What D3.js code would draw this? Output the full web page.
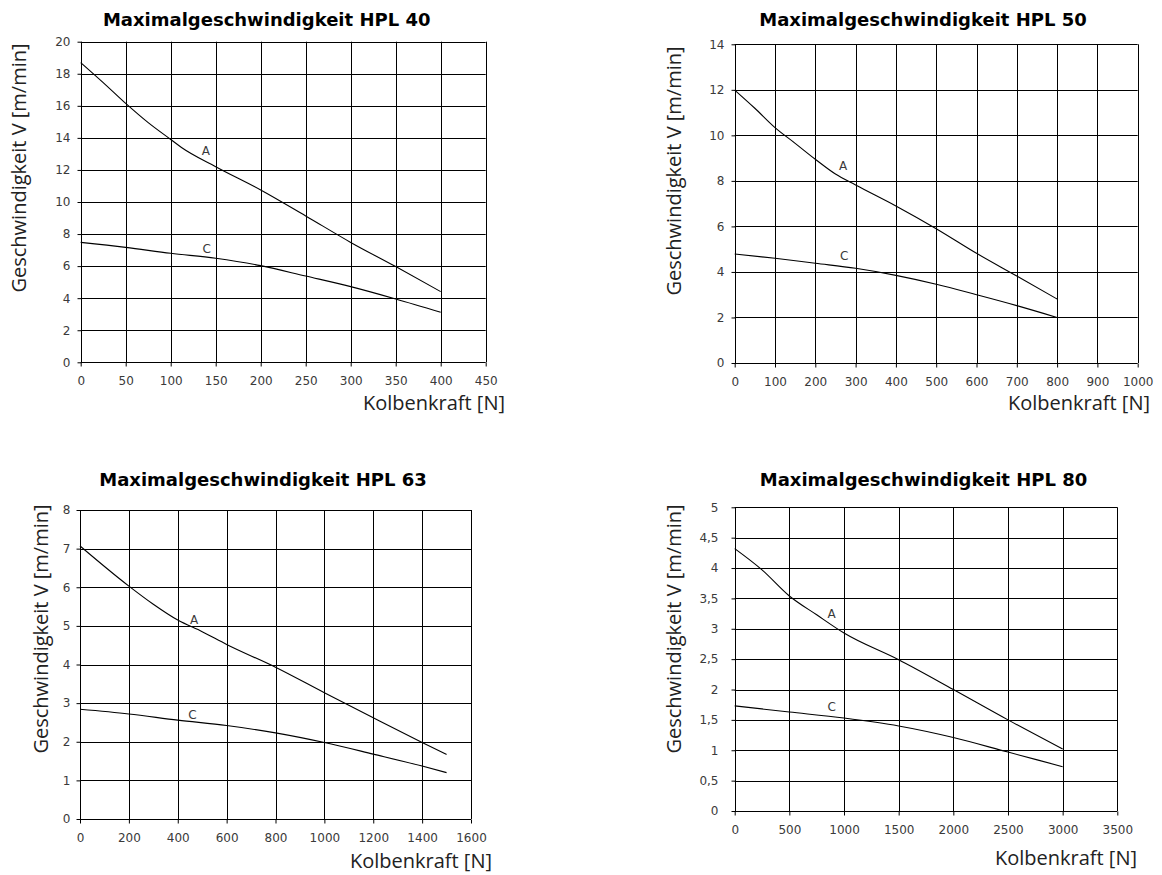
<!DOCTYPE html>
<html>
<head>
<meta charset="utf-8">
<script src="https://cdn.jsdelivr.net/npm/d3@7"></script>
<style>
  body { margin: 0; background: #fff; }
  svg { display: block; font-family: "Open Sans", "Noto Sans", sans-serif; }
</style>
</head>
<body>
<svg id="charts" width="1162" height="875"></svg>
<script>
// Data (Kolbenkraft [N] -> V [m/min])
const hpl40Force = [0, 25, 50, 75, 100, 112, 150, 200, 250, 300, 350, 400];
const hpl40A = [18.7, 17.45, 16.15, 14.95, 13.9, 13.4, 12.2, 10.75, 9.13, 7.48, 5.97, 4.41];
const hpl40CForce = [0, 50, 100, 150, 200, 250, 300, 350, 400];
const hpl40C = [7.48, 7.17, 6.8, 6.49, 6.03, 5.38, 4.72, 3.95, 3.12];

const hpl50Force = [0, 50, 100, 150, 200, 250, 300, 400, 500, 600, 700, 800];
const hpl50A = [11.99, 11.19, 10.34, 9.65, 8.95, 8.3, 7.82, 6.9, 5.9, 4.82, 3.82, 2.81];
const hpl50CForce = [0, 100, 200, 300, 400, 500, 600, 700, 800];
const hpl50C = [4.79, 4.6, 4.38, 4.16, 3.85, 3.46, 3.0, 2.52, 2.0];

const hpl63Force = [0, 200, 300, 400, 500, 600, 800, 1000, 1200, 1400, 1500];
const hpl63A = [7.07, 6.03, 5.56, 5.15, 4.85, 4.52, 3.93, 3.27, 2.62, 1.98, 1.67];
const hpl63CForce = [0, 200, 400, 600, 800, 1000, 1200, 1400, 1500];
const hpl63C = [2.84, 2.72, 2.56, 2.42, 2.23, 1.98, 1.68, 1.37, 1.2];

const hpl80Force = [0, 250, 500, 750, 1000, 1500, 2000, 2500, 3000];
const hpl80A = [4.32, 3.97, 3.54, 3.23, 2.93, 2.49, 2.0, 1.5, 1.02];
const hpl80CForce = [0, 500, 1000, 1500, 2000, 2500, 3000];
const hpl80C = [1.73, 1.63, 1.53, 1.40, 1.21, 0.97, 0.73];

// Tick values
const hpl40XTicks = d3.range(0, 451, 50);
const hpl40YTicks = d3.range(0, 21, 2);
const hpl50XTicks = d3.range(0, 1001, 100);
const hpl50YTicks = d3.range(0, 15, 2);
const hpl63XTicks = d3.range(0, 1601, 200);
const hpl63YTicks = d3.range(0, 9, 1);
const hpl80XTicks = d3.range(0, 3501, 500);
const hpl80YTicks = [0, 0.5, 1, 1.5, 2, 2.5, 3, 3.5, 4, 4.5, 5];

// Curve label anchors [force, speed]
const hpl40Labels = [["A", 139, 13.2], ["C", 140, 7.1]];
const hpl50Labels = [["A", 269, 8.67], ["C", 272, 4.7]];
const hpl63Labels = [["A", 467, 5.17], ["C", 460, 2.69]];
const hpl80Labels = [["A", 887, 3.24], ["C", 887, 1.72]];

const titles = ["Maximalgeschwindigkeit HPL 40", "Maximalgeschwindigkeit HPL 50",
                "Maximalgeschwindigkeit HPL 63", "Maximalgeschwindigkeit HPL 80"];

const zip = (xs, ys) => xs.map((x, i) => [x, ys[i]]);

// layout per panel
const charts = [
  { title: titles[0], x0: 80.7, x1: 485.7, y0: 41.7, y1: 362.3, xMax: 450, yMax: 20,
    xTicks: hpl40XTicks, yTicks: hpl40YTicks, a: zip(hpl40Force, hpl40A), c: zip(hpl40CForce, hpl40C),
    labels: hpl40Labels, titleX: 266.7, titleY: 26, yLabX: 19, yLabY: 168, xLabX: 505, xLabY: 410, yPad: 7 },
  { title: titles[1], x0: 734.7, x1: 1137.7, y0: 44.3, y1: 363, xMax: 1000, yMax: 14,
    xTicks: hpl50XTicks, yTicks: hpl50YTicks, a: zip(hpl50Force, hpl50A), c: zip(hpl50CForce, hpl50C),
    labels: hpl50Labels, titleX: 923, titleY: 26, yLabX: 674, yLabY: 171, xLabX: 1150, xLabY: 410, yPad: 7 },
  { title: titles[2], x0: 80, x1: 471, y0: 510, y1: 819, xMax: 1600, yMax: 8,
    xTicks: hpl63XTicks, yTicks: hpl63YTicks, a: zip(hpl63Force, hpl63A), c: zip(hpl63CForce, hpl63C),
    labels: hpl63Labels, titleX: 263, titleY: 486, yLabX: 41, yLabY: 629, xLabX: 492, xLabY: 868, yPad: 6 },
  { title: titles[3], x0: 734.7, x1: 1117.3, y0: 507.3, y1: 811, xMax: 3500, yMax: 5,
    xTicks: hpl80XTicks, yTicks: hpl80YTicks, a: zip(hpl80Force, hpl80A), c: zip(hpl80CForce, hpl80C),
    labels: hpl80Labels, titleX: 923.5, titleY: 486, yLabX: 674, yLabY: 629, xLabX: 1137, xLabY: 865, yPad: 13 }
];

const svg = d3.select("#charts");
const commaFmt = d => String(d).replace(".", ",");

charts.forEach(ch => {
  const x = d3.scaleLinear().domain([0, ch.xMax]).range([ch.x0, ch.x1]);
  const y = d3.scaleLinear().domain([0, ch.yMax]).range([ch.y1, ch.y0]);
  const g = svg.append("g");

  // grid
  g.append("g").selectAll("line")
    .data(ch.yTicks)
    .enter().append("line")
    .attr("x1", ch.x0).attr("x2", ch.x1)
    .attr("y1", d => Math.round(y(d)) + 0.5).attr("y2", d => Math.round(y(d)) + 0.5)
    .style("stroke", "#000").style("stroke-width", 1);
  g.append("g").selectAll("line")
    .data(ch.xTicks)
    .enter().append("line")
    .attr("y1", ch.y0).attr("y2", ch.y1)
    .attr("x1", d => Math.round(x(d)) + 0.5).attr("x2", d => Math.round(x(d)) + 0.5)
    .style("stroke", "#000").style("stroke-width", 1);

  // axes
  const yAxis = g.append("g")
    .attr("transform", `translate(${Math.round(ch.x0) + 0.5},0)`)
    .call(d3.axisLeft(y).tickValues(ch.yTicks).tickSize(4).tickSizeOuter(0)
      .tickPadding(ch.yPad).tickFormat(commaFmt));
  const xAxis = g.append("g")
    .attr("transform", `translate(0,${Math.round(ch.y1) + 0.5})`)
    .call(d3.axisBottom(x).tickValues(ch.xTicks).tickSize(4).tickSizeOuter(0)
      .tickPadding(10).tickFormat(d => d));
  [yAxis, xAxis].forEach(ax => {
    ax.select(".domain").remove();
    ax.selectAll("line").style("stroke", "#000");
    ax.selectAll("text").style("font-size", "12px").style("fill", "#3a3a3a")
      .style("font-family", "'DejaVu Sans', sans-serif");
  });

  // curves
  const line = d3.line()
    .x(d => x(d[0]))
    .y(d => y(d[1]))
    .curve(d3.curveMonotoneX);
  [ch.a, ch.c].forEach(series => {
    g.append("path")
      .datum(series)
      .attr("d", line)
      .style("fill", "none")
      .style("stroke", "#000")
      .style("stroke-width", 1.1);
  });

  g.selectAll(".curve-label")
    .data(ch.labels)
    .enter().append("text")
    .attr("class", "curve-label")
    .attr("x", d => x(d[1]))
    .attr("y", d => y(d[2]))
    .attr("dy", "0.35em")
    .attr("text-anchor", "middle")
    .text(d => d[0])
    .style("font-size", "12px")
    .style("font-family", "'DejaVu Sans', sans-serif")
    .style("fill", "#3a3a3a");

  // titles
  g.append("text")
    .attr("x", ch.titleX).attr("y", ch.titleY)
    .attr("text-anchor", "middle")
    .text(ch.title)
    .style("font-size", "18px")
    .style("font-weight", "bold")
    .style("font-family", "'DejaVu Sans', sans-serif")
    .style("fill", "#000");

  g.append("text")
    .attr("transform", `translate(${ch.yLabX},${ch.yLabY}) rotate(-90)`)
    .attr("text-anchor", "middle")
    .attr("dy", "0.35em")
    .text("Geschwindigkeit V [m/min]")
    .style("font-size", "20px")
    .style("fill", "#222");

  g.append("text")
    .attr("x", ch.xLabX).attr("y", ch.xLabY)
    .attr("text-anchor", "end")
    .text("Kolbenkraft [N]")
    .style("font-size", "20px")
    .style("fill", "#222");
});
</script>
</body>
</html>
